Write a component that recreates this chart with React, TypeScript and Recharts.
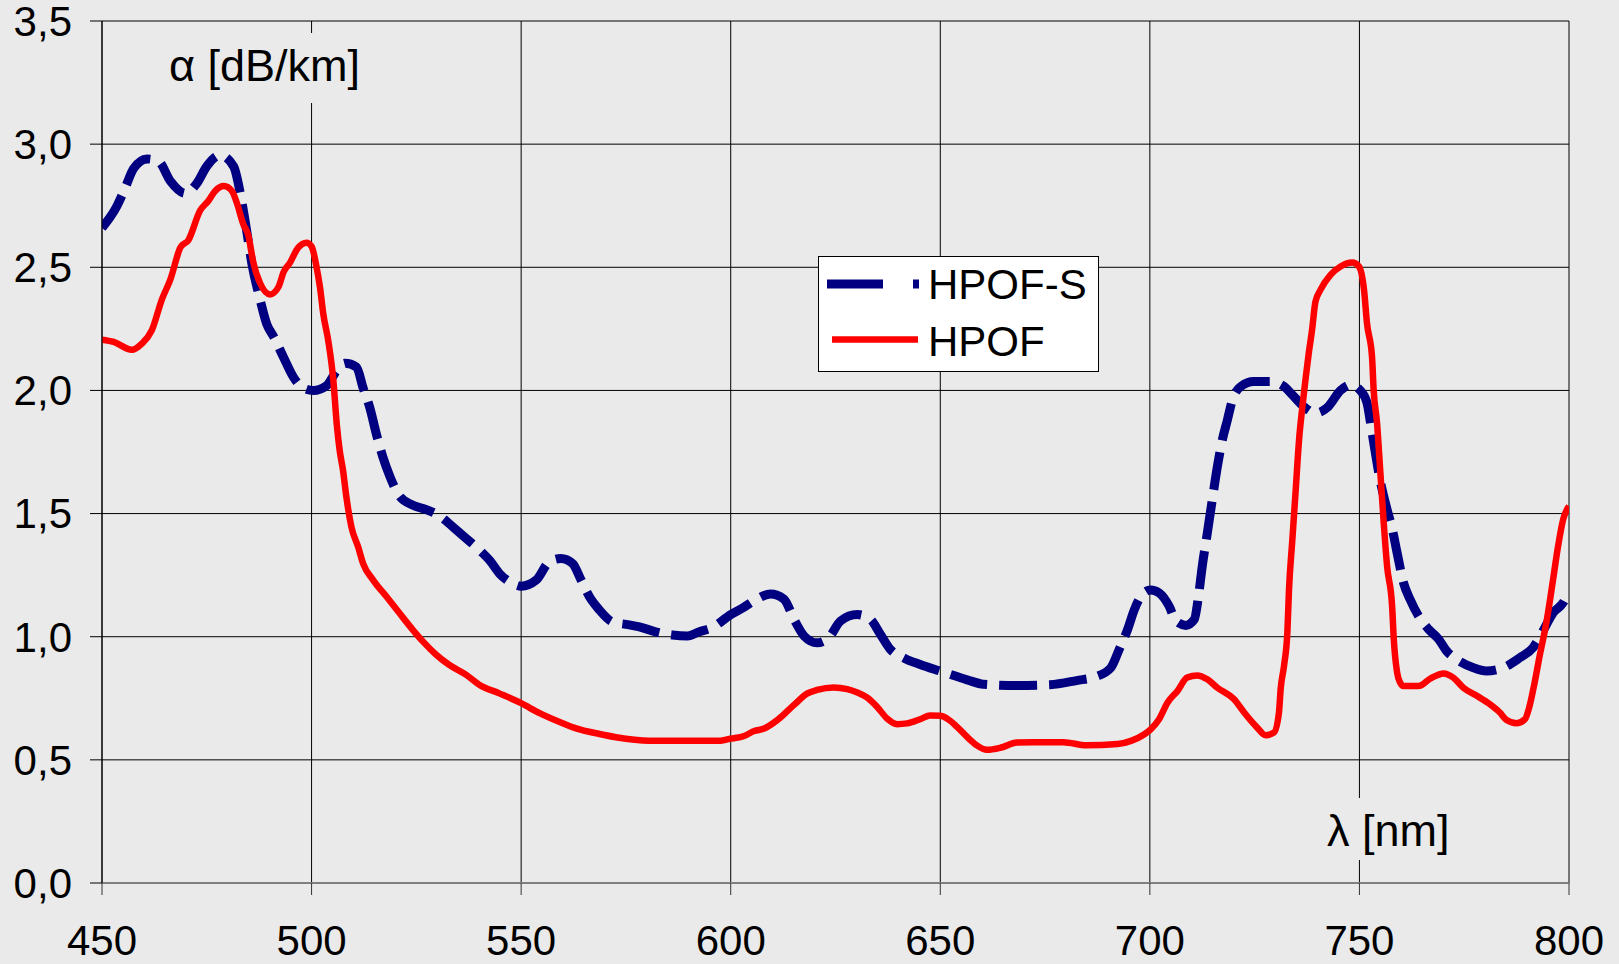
import React from 'react';
import { LineChart, Line, XAxis, YAxis, CartesianGrid, Legend } from 'recharts';

// HPOF-S (dashed, navy): wavelength [nm] and attenuation [dB/km]
const hpofSLambda = [
  450, 453.6, 455.6, 457.5, 460.7, 463.5, 466.3, 469.9, 472.6, 475, 478.2, 481.4, 483, 484.5, 485.7,
  487.7, 489.3, 490.9, 493.3, 495.7, 498, 500.4, 503.6, 506, 508, 510.7, 512.3, 513.9, 515.5, 517,
  518.7, 521, 524.2, 527.4, 530.6, 533.7, 536.1, 540.5, 542.5, 544.8, 548, 550, 553.6, 556.7, 559.5,
  562.3, 564.3, 566.3, 568.7, 571.8, 575, 578.2, 582.1, 586.1, 589.7, 592.5, 595.6, 600, 603.2, 605.6,
  609.5, 612.7, 615.1, 617.5, 620.6, 623.4, 626.2, 630.2, 633.3, 635.7, 638.1, 641.3, 645.2, 650, 656.4,
  660.3, 668.3, 676.2, 682.5, 687.3, 690.7, 692.7, 694.7, 696.3, 697.9, 700.2, 702.2, 704.6, 706.2, 708.6,
  710.6, 711.7, 712.5, 713.7, 714.9, 716.1, 717.3, 718.5, 719.7, 721.7, 724.8, 728.8, 732, 734, 736.7,
  739.5, 742.3, 745.5, 747.9, 750.2, 751.8, 753, 755, 756.6, 757.8, 759, 760.5, 762.1, 764.1, 766.5,
  768.9, 770.8, 773.2, 777.2, 780.3, 784.3, 788.3, 791.4, 793.8, 796.2, 798.6, 800,
];
const hpofSAlpha = [
  2.66, 2.75, 2.825, 2.9, 2.94, 2.93, 2.85, 2.8, 2.84, 2.91, 2.955, 2.91, 2.8, 2.65, 2.52,
  2.37, 2.27, 2.22, 2.135, 2.053, 2.01, 2.0, 2.02, 2.08, 2.11, 2.095, 2.01, 1.93, 1.82, 1.73,
  1.65, 1.57, 1.534, 1.516, 1.49, 1.446, 1.41, 1.345, 1.31, 1.257, 1.216, 1.205, 1.23, 1.304, 1.318,
  1.297, 1.23, 1.162, 1.108, 1.06, 1.05, 1.04, 1.02, 1.007, 1.003, 1.02, 1.037, 1.09, 1.12, 1.146,
  1.173, 1.153, 1.071, 1.003, 0.975, 0.996, 1.064, 1.09, 1.071, 1.01, 0.948, 0.914, 0.887, 0.86, 0.825,
  0.807, 0.802, 0.805, 0.822, 0.839, 0.874, 0.949, 1.03, 1.11, 1.165, 1.19, 1.178, 1.124, 1.064, 1.046,
  1.07, 1.178, 1.286, 1.42, 1.557, 1.69, 1.8, 1.88, 1.962, 2.016, 2.036, 2.036, 2.016, 1.982, 1.935,
  1.908, 1.93, 2.0, 2.023, 2.0, 1.95, 1.83, 1.63, 1.516, 1.44, 1.34, 1.22, 1.151, 1.084, 1.03,
  0.99, 0.942, 0.908, 0.874, 0.861, 0.874, 0.915, 0.955, 1.023, 1.097, 1.138, 1.185,
];

// HPOF (solid, red)
const hpofLambda = [
  450, 452.8, 457.1, 459.5, 461.9, 464.3, 466.3, 468.7, 470.6, 473.4, 475.4, 477, 479.1, 481, 482.2,
  483.7, 484.9, 486.1, 487.7, 490.1, 492.1, 493.3, 494.9, 496.8, 498.8, 500, 501.2, 502, 502.8, 504,
  505.2, 506, 506.7, 507.5, 508.3, 509.5, 511.1, 512.3, 514.7, 517.9, 521, 524.2, 526.6, 529.8, 532.9,
  536.9, 540.1, 544.8, 550, 554.4, 559.9, 563.1, 568.7, 572.6, 580.6, 589.3, 597.6, 600, 603.2, 605.6,
  608, 611.1, 615.1, 618.3, 620.6, 624.6, 627.8, 630.2, 632.5, 634.9, 637.3, 639.7, 642.1, 645.2, 647.6,
  650, 651.6, 654, 656.4, 658.7, 661.1, 664.3, 668.3, 672.2, 679.4, 684.9, 692.3, 695.5, 698.7, 700.2,
  702.2, 704.2, 706.6, 708.9, 711.3, 713.7, 716.1, 720.1, 722.5, 725.6, 727.6, 729.6, 730.8, 731.2, 732,
  732.8, 733.2, 734, 734.8, 735.6, 736.4, 737.1, 737.9, 738.7, 739.5, 740.7, 743.1, 745.5, 748.3, 749.9,
  751.1, 751.8, 753, 753.4, 754.2, 755, 755.8, 756.6, 757.8, 758.2, 759, 759.7, 760.5, 764.1, 766.9,
  770.1, 772.4, 774.8, 778, 781.1, 783.5, 785.1, 787.5, 789.5, 790.6, 791.8, 793, 794.6, 796.2, 797.4,
  798.6, 800,
];
const hpofAlpha = [
  2.206, 2.197, 2.165, 2.19, 2.245, 2.37, 2.45, 2.58, 2.61, 2.73, 2.77, 2.81, 2.83, 2.81, 2.76,
  2.675, 2.63, 2.52, 2.436, 2.39, 2.42, 2.48, 2.52, 2.58, 2.6, 2.585, 2.5, 2.42, 2.31, 2.2,
  2.04, 1.865, 1.757, 1.676, 1.568, 1.446, 1.365, 1.297, 1.23, 1.162, 1.095, 1.027, 0.98, 0.926, 0.885,
  0.845, 0.804, 0.77, 0.73, 0.69, 0.649, 0.628, 0.605, 0.592, 0.578, 0.578, 0.578, 0.586, 0.597, 0.617,
  0.627, 0.661, 0.723, 0.77, 0.784, 0.794, 0.787, 0.773, 0.754, 0.716, 0.668, 0.645, 0.648, 0.665, 0.68,
  0.679, 0.668, 0.634, 0.593, 0.559, 0.541, 0.549, 0.57, 0.572, 0.572, 0.559, 0.564, 0.577, 0.604, 0.624,
  0.665, 0.732, 0.78, 0.834, 0.843, 0.827, 0.793, 0.746, 0.692, 0.631, 0.6, 0.611, 0.692, 0.787, 0.881,
  1.016, 1.192, 1.395, 1.597, 1.8, 1.935, 2.04, 2.15, 2.246, 2.36, 2.408, 2.469, 2.503, 2.519, 2.503,
  2.408, 2.273, 2.138, 2.0, 1.868, 1.665, 1.462, 1.286, 1.124, 0.989, 0.854, 0.814, 0.8, 0.8, 0.83,
  0.851, 0.834, 0.793, 0.76, 0.726, 0.692, 0.662, 0.649, 0.665, 0.719, 0.814, 0.922, 1.057, 1.232, 1.368,
  1.476, 1.53,
];

const seriesNames = ['HPOF-S', 'HPOF'];
const xTicks = [450, 500, 550, 600, 650, 700, 750, 800];
const yTicks = [0, 0.5, 1, 1.5, 2, 2.5, 3, 3.5];
const yAxisTitle = 'α [dB/km]';
const xAxisTitle = 'λ [nm]';

const hpofSData = hpofSLambda.map((x, i) => ({ x, y: hpofSAlpha[i] }));
const hpofData = hpofLambda.map((x, i) => ({ x, y: hpofAlpha[i] }));

const FONT = '"Liberation Sans", Arial, sans-serif';
const BG = '#EAEAEA';

const LegendBox = () => (
  <svg width={281} height={116} style={{ display: 'block' }}>
    <rect x={0.5} y={0.5} width={280} height={115} fill="#FFFFFF" stroke="#000" strokeWidth={1} />
    <line x1={9} x2={101} y1={28} y2={28} stroke="#000080" strokeWidth={9} strokeDasharray="56 30" />
    <text x={110} y={43} fontSize={42} fontFamily={FONT} fill="#000">{seriesNames[0]}</text>
    <line x1={14} x2={100} y1={83.5} y2={83.5} stroke="#FF0000" strokeWidth={6.5} />
    <text x={110} y={100} fontSize={42} fontFamily={FONT} fill="#000">{seriesNames[1]}</text>
  </svg>
);

export default function App() {
  return (
    <div
      style={{
        position: 'absolute',
        left: 0,
        top: 0,
        width: 1619,
        height: 964,
        background: BG,
        overflow: 'hidden',
        fontFamily: FONT,
      }}
    >
      <LineChart width={1619} height={964} margin={{ top: 21, right: 50, bottom: 0, left: 0 }}>
        <CartesianGrid stroke="#000" strokeWidth={1} horizontalValues={yTicks} verticalValues={xTicks} />
        <XAxis
          type="number"
          dataKey="x"
          domain={[450, 800]}
          ticks={xTicks}
          height={81}
          tickSize={12}
          tickMargin={30}
          axisLine={{ stroke: '#7F7F7F', strokeWidth: 2 }}
          tickLine={{ stroke: '#333' }}
          tick={{ fill: '#000', fontSize: 42, fontFamily: FONT }}
          interval={0}
          allowDataOverflow
        />
        <YAxis
          type="number"
          dataKey="y"
          domain={[0, 3.5]}
          ticks={yTicks}
          width={102}
          tickSize={12}
          tickMargin={18}
          axisLine={{ stroke: '#000' }}
          tickLine={{ stroke: '#000' }}
          tick={{ fill: '#000', fontSize: 42, fontFamily: FONT }}
          tickFormatter={(v: number) => v.toFixed(1).replace('.', ',')}
          interval={0}
          allowDataOverflow
        />
        <Legend
          layout="vertical"
          align="center"
          verticalAlign="middle"
          wrapperStyle={{ left: 818, top: 256, width: 281, height: 116 }}
          content={() => <LegendBox />}
        />
        <Line
          data={hpofSData}
          dataKey="y"
          name={seriesNames[0]}
          type="monotone"
          stroke="#000080"
          strokeWidth={9}
          strokeDasharray="38 12"
          dot={false}
          activeDot={false}
          isAnimationActive={false}
        />
        <Line
          data={hpofData}
          dataKey="y"
          name={seriesNames[1]}
          type="monotone"
          stroke="#FF0000"
          strokeWidth={6.5}
          dot={false}
          activeDot={false}
          isAnimationActive={false}
        />
      </LineChart>
      <svg
        width={1619}
        height={964}
        style={{ position: 'absolute', left: 0, top: 0, pointerEvents: 'none' }}
      >
        <rect x={160} y={33} width={225} height={70} fill={BG} />
        <text x={169} y={81} fontSize={45} fontFamily={FONT} fill="#000">{yAxisTitle}</text>
        <rect x={1318} y={798} width={150} height={62} fill={BG} />
        <text x={1327} y={846} fontSize={45} fontFamily={FONT} fill="#000">{xAxisTitle}</text>
      </svg>
    </div>
  );
}
